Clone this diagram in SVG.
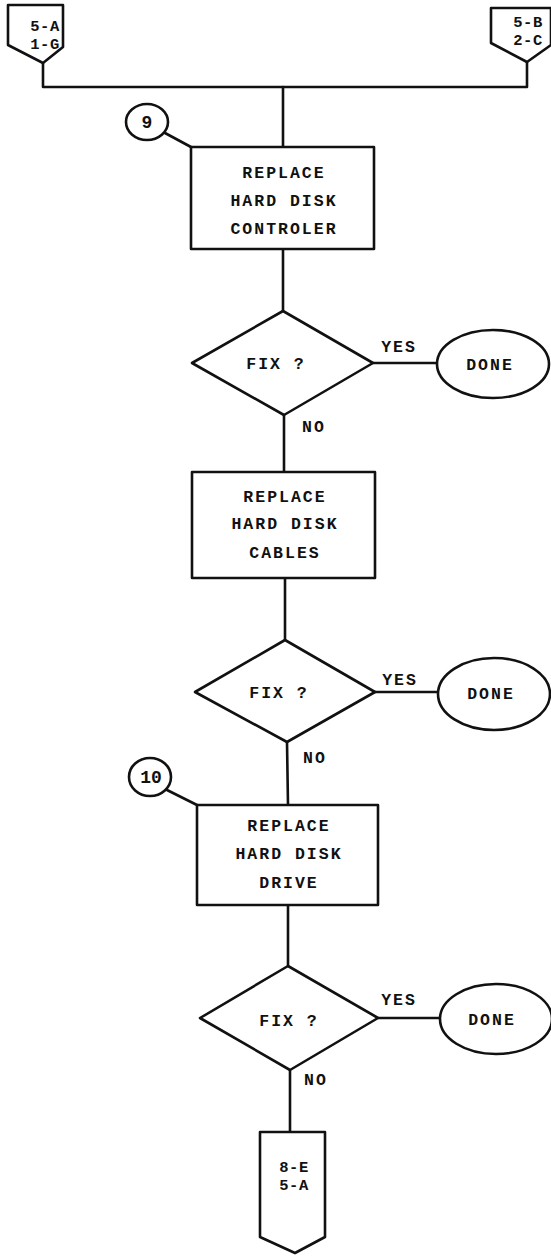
<svg xmlns="http://www.w3.org/2000/svg" width="551" height="1257" viewBox="0 0 551 1257">
<style>
.s{fill:none;stroke:#111;stroke-width:2.6;stroke-linejoin:round;stroke-linecap:round}
.w{fill:#fff;stroke:#111;stroke-width:2.6;stroke-linejoin:round}
.t{font-family:"Liberation Mono","DejaVu Sans Mono",monospace;font-weight:bold;font-size:16.5px;letter-spacing:2px;fill:#111;text-anchor:middle}
.c{font-family:"Liberation Mono","DejaVu Sans Mono",monospace;font-weight:bold;font-size:15.5px;letter-spacing:0.5px;fill:#111;text-anchor:middle}
.n{font-family:"Liberation Mono","DejaVu Sans Mono",monospace;font-weight:bold;font-size:18px;fill:#111;text-anchor:middle}
</style>
<rect width="551" height="1257" fill="#fff"/>
<g id="connectors">
<polyline class="s" points="43,63 43,87 527,87 527,62"/>
<line class="s" x1="283" y1="87" x2="283" y2="147"/>
<line class="s" x1="165" y1="133" x2="191" y2="147"/>
<line class="s" x1="283" y1="249" x2="283" y2="311"/>
<line class="s" x1="373" y1="363" x2="437" y2="363"/>
<line class="s" x1="284" y1="415" x2="284" y2="472"/>
<line class="s" x1="285" y1="578" x2="285" y2="640"/>
<line class="s" x1="375" y1="692" x2="438" y2="692"/>
<line class="s" x1="287" y1="742" x2="288" y2="805"/>
<line class="s" x1="167" y1="790" x2="197" y2="805"/>
<line class="s" x1="288" y1="905" x2="288" y2="966"/>
<line class="s" x1="378" y1="1018" x2="440" y2="1018"/>
<line class="s" x1="290" y1="1070" x2="290" y2="1132"/>
<text class="t" x="399" y="352">YES</text>
<text class="t" x="314" y="432">NO</text>
<text class="t" x="400" y="685">YES</text>
<text class="t" x="315" y="763">NO</text>
<text class="t" x="399" y="1005">YES</text>
<text class="t" x="316" y="1085">NO</text>
</g>
<g id="offpage-5A-1G">
<polygon class="w" points="8,5 63,5 63,47 43,63 8,45"/>
<text class="c" x="45" y="31">5-A</text>
<text class="c" x="45" y="49">1-G</text>
</g>
<g id="offpage-5B-2C">
<polygon class="w" points="491,8 551,8 551,45 527,62 491,43"/>
<text class="c" x="528" y="27">5-B</text>
<text class="c" x="528" y="45">2-C</text>
</g>
<g id="ref-9">
<ellipse class="w" cx="147" cy="122" rx="21" ry="18"/>
<text class="n" x="147" y="128">9</text>
</g>
<g id="box-controller">
<rect class="w" x="191" y="147" width="183" height="102"/>
<text class="t" x="284" y="178">REPLACE</text>
<text class="t" x="284" y="206">HARD DISK</text>
<text class="t" x="284" y="234">CONTROLER</text>
</g>
<g id="decision-1">
<polygon class="w" points="283,311 373,363 284,415 192,363"/>
<text class="t" x="276" y="369">FIX ?</text>
</g>
<g id="done-1">
<ellipse class="w" cx="493" cy="364" rx="56" ry="34"/>
<text class="t" x="490" y="370">DONE</text>
</g>
<g id="box-cables">
<rect class="w" x="192" y="472" width="183" height="106"/>
<text class="t" x="285" y="502">REPLACE</text>
<text class="t" x="285" y="529">HARD DISK</text>
<text class="t" x="285" y="558">CABLES</text>
</g>
<g id="decision-2">
<polygon class="w" points="285,640 375,692 287,742 195,692"/>
<text class="t" x="279" y="698">FIX ?</text>
</g>
<g id="done-2">
<ellipse class="w" cx="494" cy="694" rx="56" ry="36"/>
<text class="t" x="491" y="699">DONE</text>
</g>
<g id="ref-10">
<ellipse class="w" cx="150" cy="777" rx="21" ry="19"/>
<text class="n" x="151" y="783">10</text>
</g>
<g id="box-drive">
<rect class="w" x="197" y="805" width="181" height="100"/>
<text class="t" x="289" y="831">REPLACE</text>
<text class="t" x="289" y="859">HARD DISK</text>
<text class="t" x="289" y="888">DRIVE</text>
</g>
<g id="decision-3">
<polygon class="w" points="288,966 378,1018 290,1070 200,1018"/>
<text class="t" x="289" y="1026">FIX ?</text>
</g>
<g id="done-3">
<ellipse class="w" cx="496" cy="1019" rx="56" ry="35"/>
<text class="t" x="492" y="1025">DONE</text>
</g>
<g id="offpage-8E-5A">
<polygon class="w" points="260,1132 325,1132 325,1237 295,1253 260,1237"/>
<text class="c" x="294" y="1172">8-E</text>
<text class="c" x="294" y="1190">5-A</text>
</g>
</svg>
